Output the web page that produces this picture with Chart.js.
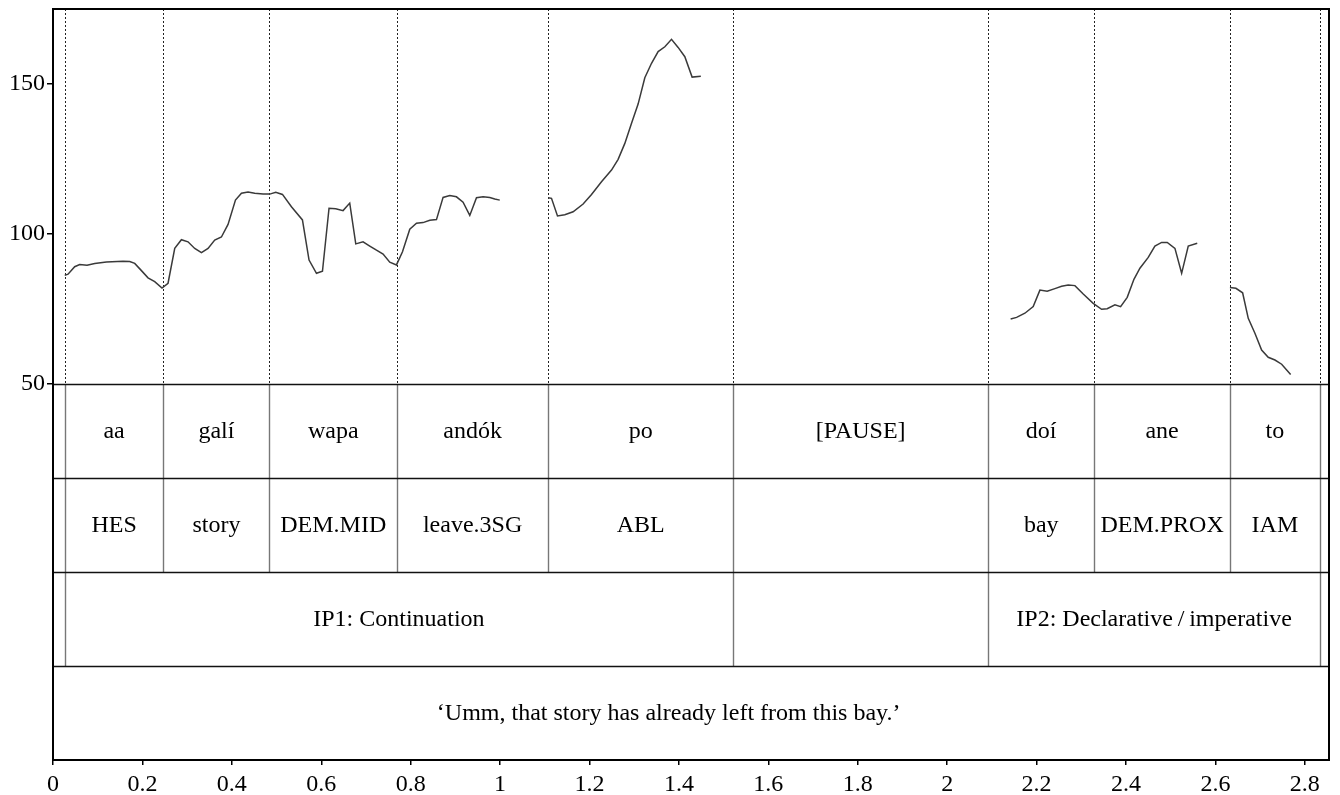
<!DOCTYPE html>
<html>
<head>
<meta charset="utf-8">
<script src="https://cdn.jsdelivr.net/npm/chart.js@4.4.0/dist/chart.umd.min.js"></script>
<style>
  html, body { margin: 0; padding: 0; background: #fff; }
  #wrap { width: 1340px; height: 795px; }
</style>
</head>
<body>
<div id="wrap"><canvas id="c"></canvas></div>
<script>
// Pitch track (Hz) per voiced stretch: times in seconds, values in Hz
const seg1Time = [0.0262, 0.0336, 0.0485, 0.0597, 0.0761, 0.0933, 0.1195, 0.1566, 0.1716, 0.1828,
  0.1978, 0.2125, 0.2275, 0.2438, 0.2573, 0.2723, 0.2872, 0.3020, 0.3170, 0.3320,
  0.3468, 0.3617, 0.3767, 0.3915, 0.4081, 0.4215, 0.4362, 0.4512, 0.4698, 0.4848,
  0.4982, 0.5132, 0.5333, 0.5579, 0.5727, 0.5893, 0.6027, 0.6174, 0.6324, 0.6488,
  0.6637, 0.6772, 0.6935, 0.7085, 0.7235, 0.7383, 0.7532, 0.7682, 0.7817, 0.7980,
  0.8130, 0.8277, 0.8427, 0.8577, 0.8725, 0.8875, 0.9024, 0.9172, 0.9322, 0.9472,
  0.9620, 0.9770, 0.9881, 0.9993];
const seg1Hz = [86.2, 86.6, 89.1, 89.8, 89.6, 90.2, 90.7, 90.9, 90.8, 90.2,
  87.8, 85.4, 84.1, 82.0, 83.6, 95.2, 98.1, 97.4, 95.2, 93.8,
  95.2, 98.0, 99.0, 103.2, 111.3, 113.6, 114.0, 113.6, 113.3, 113.3,
  113.9, 113.2, 109.1, 104.7, 91.3, 86.9, 87.6, 108.6, 108.4, 107.8,
  110.3, 96.7, 97.4, 96.0, 94.6, 93.3, 90.6, 89.7, 94.1, 101.6,
  103.6, 103.8, 104.6, 104.8, 112.2, 112.8, 112.4, 110.6, 106.2, 112.1,
  112.4, 112.2, 111.7, 111.3];

const seg2Time = [1.1074, 1.1150, 1.1284, 1.1447, 1.1633, 1.1857, 1.2045, 1.2268, 1.2492, 1.2640,
  1.2790, 1.2940, 1.3087, 1.3237, 1.3387, 1.3535, 1.3685, 1.3834, 1.3982, 1.4132,
  1.4295, 1.4490];
const seg2Hz = [112.1, 111.9, 106.0, 106.4, 107.4, 110.0, 113.2, 117.4, 121.3, 124.9,
  130.2, 136.9, 143.3, 152.1, 156.9, 160.8, 162.4, 164.9, 162.2, 159.1,
  152.3, 152.6];

const seg3Time = [2.1419, 2.1553, 2.1738, 2.1924, 2.2074, 2.2237, 2.2409, 2.2559, 2.2707, 2.2857,
  2.3043, 2.3266, 2.3454, 2.3579, 2.3752, 2.3879, 2.4027, 2.4177, 2.4311, 2.4497,
  2.4646, 2.4796, 2.4922, 2.5094, 2.5244, 2.5392, 2.5593];
const seg3Hz = [71.7, 72.2, 73.6, 75.8, 81.3, 80.9, 81.8, 82.6, 83.0, 82.8,
  80.0, 76.9, 74.9, 75.1, 76.4, 75.8, 78.9, 84.9, 88.6, 92.2,
  96.0, 97.2, 97.2, 95.2, 86.9, 96.0, 96.9];

const seg4Time = [2.6324, 2.6458, 2.6608, 2.6734, 2.6883, 2.7033, 2.7181, 2.7331, 2.7481, 2.7593, 2.7682];
const seg4Hz = [82.2, 81.9, 80.4, 71.9, 66.9, 61.3, 58.9, 58.0, 56.6, 54.7, 53.2];

// Annotation tiers
const wordBounds = [0.0262, 0.2470, 0.4841, 0.7696, 1.1074, 1.5213, 2.0917, 2.3289, 2.6324, 2.8337];
const words = ['aa', 'galí', 'wapa', 'andók', 'po', '[PAUSE]', 'doí', 'ane', 'to'];
const glosses = ['HES', 'story', 'DEM.MID', 'leave.3SG', 'ABL', '', 'bay', 'DEM.PROX', 'IAM'];
const phraseBounds = [0.0262, 1.5213, 2.0917, 2.8337];
const phrases = ['IP1: Continuation', '', 'IP2: Declarative\u2009/\u2009imperative'];
const translation = '\u2018Umm, that story has already left from this bay.\u2019';
const translationTime = 1.377;

// Axes
const xTickValues = [0, 0.2, 0.4, 0.6, 0.8, 1, 1.2, 1.4, 1.6, 1.8, 2, 2.2, 2.4, 2.6, 2.8];
const xTickLabels = ['0', '0.2', '0.4', '0.6', '0.8', '1', '1.2', '1.4', '1.6', '1.8', '2', '2.2', '2.4', '2.6', '2.8'];
const yTickValues = [50, 100, 150];
const yTickLabels = ['50', '100', '150'];
const timeEnd = 2.854;
const pitchFloor = 50;
const pitchCeil = 175;
const tierCount = 4;
const tierSpanHz = 31.33; // each tier band is drawn as tall as this many Hz of the pitch scale

const FONT = '"Liberation Serif", "Times New Roman", serif';
const yMin = pitchFloor - tierCount * tierSpanHz;

function toPoints(t, v) { return t.map((tt, i) => ({ x: tt, y: v[i] })); }
const segs = [[seg1Time, seg1Hz], [seg2Time, seg2Hz], [seg3Time, seg3Hz], [seg4Time, seg4Hz]];

const tierPlugin = {
  id: 'tiers',
  beforeDatasetsDraw(chart) {
    const { ctx, chartArea: a, scales: { x, y } } = chart;
    const rowY = i => y.getPixelForValue(pitchFloor - i * tierSpanHz);
    const px = t => Math.round(x.getPixelForValue(t)) + 0.5;
    const line = (x1, y1, x2, y2) => { ctx.beginPath(); ctx.moveTo(x1, y1); ctx.lineTo(x2, y2); ctx.stroke(); };
    ctx.save();

    // dotted word boundaries over the pitch panel
    ctx.strokeStyle = '#222';
    ctx.lineWidth = 1;
    ctx.setLineDash([2, 2]);
    wordBounds.forEach(t => line(px(t), a.top, px(t), rowY(0)));
    ctx.setLineDash([]);

    // interval boundaries inside the tiers
    ctx.strokeStyle = '#777';
    ctx.lineWidth = 1.4;
    wordBounds.forEach(t => line(px(t), rowY(0), px(t), rowY(2)));
    phraseBounds.forEach(t => line(px(t), rowY(2), px(t), rowY(3)));

    // horizontal tier separators
    ctx.strokeStyle = '#111';
    ctx.lineWidth = 1.5;
    for (let i = 0; i < tierCount; i++) {
      const yy = Math.round(rowY(i)) + 0.5;
      line(a.left, yy, a.right, yy);
    }

    // labels
    ctx.fillStyle = '#000';
    ctx.font = '24px ' + FONT;
    ctx.textAlign = 'center';
    ctx.textBaseline = 'middle';
    const mid = i => (rowY(i) + rowY(i + 1)) / 2 + 1;
    words.forEach((w, i) => ctx.fillText(w, x.getPixelForValue((wordBounds[i] + wordBounds[i + 1]) / 2), mid(0)));
    glosses.forEach((g, i) => ctx.fillText(g, x.getPixelForValue((wordBounds[i] + wordBounds[i + 1]) / 2), mid(1)));
    phrases.forEach((p, i) => ctx.fillText(p, x.getPixelForValue((phraseBounds[i] + phraseBounds[i + 1]) / 2), mid(2)));
    ctx.fillText(translation, x.getPixelForValue(translationTime), mid(3));
    ctx.restore();
  },
  afterDraw(chart) {
    const { ctx, chartArea: a } = chart;
    ctx.save();
    ctx.strokeStyle = '#000';
    ctx.lineWidth = 2;
    ctx.strokeRect(a.left, a.top, a.right - a.left, a.bottom - a.top);
    ctx.restore();
  }
};

new Chart(document.getElementById('c'), {
  type: 'line',
  data: {
    datasets: segs.map(([t, v]) => ({
      data: toPoints(t, v),
      borderColor: '#3a3a3a',
      borderWidth: 1.5,
      pointRadius: 0,
      tension: 0,
      fill: false
    }))
  },
  options: {
    responsive: true,
    maintainAspectRatio: false,
    animation: false,
    devicePixelRatio: 1,
    layout: { padding: { top: 9, right: 11, bottom: 0, left: 0 } },
    plugins: { legend: { display: false }, tooltip: { enabled: false } },
    scales: {
      x: {
        type: 'linear',
        min: 0,
        max: timeEnd,
        afterBuildTicks: s => { s.ticks = xTickValues.map(v => ({ value: v })); },
        afterFit: s => { s.height = 35; s.paddingLeft = 0; s.paddingRight = 0; },
        ticks: {
          autoSkip: false,
          maxRotation: 0,
          padding: 5,
          color: '#000',
          font: { family: FONT, size: 24 },
          callback: (v, i) => xTickLabels[i]
        },
        grid: { display: true, drawOnChartArea: false, drawTicks: true, tickLength: 5, color: '#000', lineWidth: 1.5 },
        border: { display: true, color: '#000', width: 2 }
      },
      y: {
        type: 'linear',
        min: yMin,
        max: pitchCeil,
        afterBuildTicks: s => { s.ticks = yTickValues.map(v => ({ value: v })); },
        afterFit: s => { s.width = 53; s.paddingTop = 0; s.paddingBottom = 0; },
        ticks: {
          autoSkip: false,
          padding: 2,
          color: '#000',
          font: { family: FONT, size: 24 },
          callback: (v, i) => yTickLabels[i]
        },
        grid: { display: true, drawOnChartArea: false, drawTicks: true, tickLength: 6, color: '#000', lineWidth: 1.5 },
        border: { display: true, color: '#000', width: 2 }
      }
    }
  },
  plugins: [tierPlugin]
});
</script>
</body>
</html>
